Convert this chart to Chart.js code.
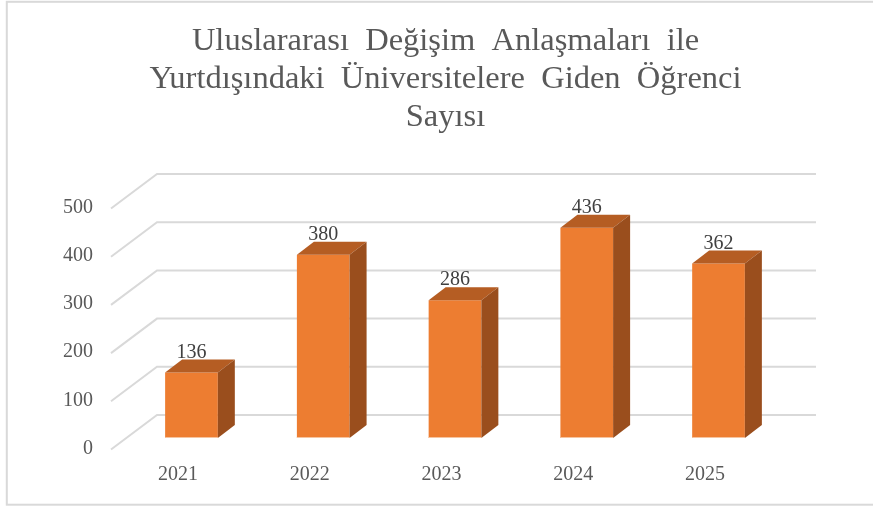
<!DOCTYPE html>
<html>
<head>
<meta charset="utf-8">
<script src="https://cdn.jsdelivr.net/npm/chart.js@4"></script>
<style>
  html, body { margin: 0; padding: 0; background: #fff; }
  #wrap { width: 873px; height: 509px; }
</style>
</head>
<body>
<div id="wrap"><canvas id="chart" width="873" height="509"></canvas></div>
<script>
// chart data
const years = ['2021', '2022', '2023', '2024', '2025'];
const students = [136, 380, 286, 436, 362];
const titleLines = ['Uluslararası  Değişim  Anlaşmaları  ile', 'Yurtdışındaki  Üniversitelere  Giden  Öğrenci', 'Sayısı'];

const FONT = "'Liberation Serif', 'Times New Roman', serif";
const GRID = '#D9D9D9';

// depth of the back wall and of the bar boxes
const wallDx = 46, wallFront = 11.5, wallBack = 23;
const boxDx = 17, boxDy = 13;

// frame around the whole picture
const framePlugin = {
    id: 'frame',
    beforeDraw(chart) {
        const ctx = chart.ctx;
        ctx.save();
        ctx.strokeStyle = GRID;
        ctx.lineWidth = 2;
        ctx.strokeRect(6.8, 1.8, 900, 502.9);
        ctx.restore();
    }
};

// 3D wall gridlines, drawn from the y scale ticks
const wallPlugin = {
    id: 'wall',
    beforeDatasetsDraw(chart) {
        const ctx = chart.ctx;
        const yScale = chart.scales.y;
        const left = chart.chartArea.left - 14.6;
        ctx.save();
        ctx.strokeStyle = GRID;
        ctx.lineWidth = 2;
        yScale.ticks.forEach(t => {
            const py = yScale.getPixelForValue(t.value);
            ctx.beginPath();
            ctx.moveTo(left, py + wallFront);
            ctx.lineTo(left + wallDx, py - wallBack);
            ctx.lineTo(816, py - wallBack);
            ctx.stroke();
        });
        ctx.restore();
    }
};

// top and side faces of the bars plus value labels
const boxPlugin = {
    id: 'box',
    afterDatasetsDraw(chart) {
        const ctx = chart.ctx;
        const meta = chart.getDatasetMeta(0);
        ctx.save();
        meta.data.forEach((bar, i) => {
            const L = bar.x - bar.width / 2;
            const R = bar.x + bar.width / 2;
            const top = bar.y;
            const base = bar.base;

            ctx.fillStyle = '#B55D23';
            ctx.beginPath();
            ctx.moveTo(L, top);
            ctx.lineTo(R, top);
            ctx.lineTo(R + boxDx, top - boxDy);
            ctx.lineTo(L + boxDx, top - boxDy);
            ctx.closePath();
            ctx.fill();

            ctx.fillStyle = '#9A4E1D';
            ctx.beginPath();
            ctx.moveTo(R, top);
            ctx.lineTo(R + boxDx, top - boxDy);
            ctx.lineTo(R + boxDx, base - boxDy);
            ctx.lineTo(R, base);
            ctx.closePath();
            ctx.fill();

            ctx.strokeStyle = '#F6C4A0';
            ctx.lineWidth = 1;
            ctx.beginPath();
            ctx.moveTo(L, base - 0.5);
            ctx.lineTo(R, base - 0.5);
            ctx.stroke();

            ctx.fillStyle = '#404040';
            ctx.font = '20px ' + FONT;
            ctx.textAlign = 'center';
            ctx.textBaseline = 'middle';
            ctx.fillText(String(students[i]), bar.x, top - 20);
        });
        ctx.restore();
    }
};

const ctx = document.getElementById('chart').getContext('2d');
new Chart(ctx, {
    type: 'bar',
    data: {
        labels: years,
        datasets: [{
            data: students,
            backgroundColor: '#ED7D31',
            borderWidth: 0,
            categoryPercentage: 0.4,
            barPercentage: 1.0
        }]
    },
    options: {
        responsive: false,
        animation: false,
        layout: { padding: { left: 18, right: 0, top: 0, bottom: 0 } },
        plugins: {
            legend: { display: false },
            tooltip: { enabled: false },
            title: {
                display: true,
                text: titleLines,
                color: '#595959',
                font: { family: FONT, size: 32.5, weight: 'normal', lineHeight: 1.17 },
                padding: { top: 22.5, bottom: 60.4 }
            }
        },
        scales: {
            x: {
                grid: { display: false, drawTicks: false },
                border: { display: false },
                ticks: {
                    color: '#595959',
                    font: { family: FONT, size: 20 },
                    padding: 25,
                    labelOffset: -13.5
                },
                afterFit(scale) { scale.height = 71; }
            },
            y: {
                min: 0,
                max: 500,
                grid: { display: false, drawTicks: false },
                border: { display: false },
                ticks: {
                    stepSize: 100,
                    color: '#595959',
                    font: { family: FONT, size: 20 },
                    padding: 32.6,
                    labelOffset: 10.5
                },
                afterFit(scale) { scale.width = 107.6; }
            },
            // empty space on the right, keeps the title centred like the original
            pad: {
                type: 'linear',
                position: 'right',
                min: 0,
                max: 1,
                grid: { display: false, drawTicks: false },
                border: { display: false },
                ticks: { display: false },
                afterFit(scale) { scale.width = 88.6; }
            }
        }
    },
    plugins: [framePlugin, wallPlugin, boxPlugin]
});
</script>
</body>
</html>
